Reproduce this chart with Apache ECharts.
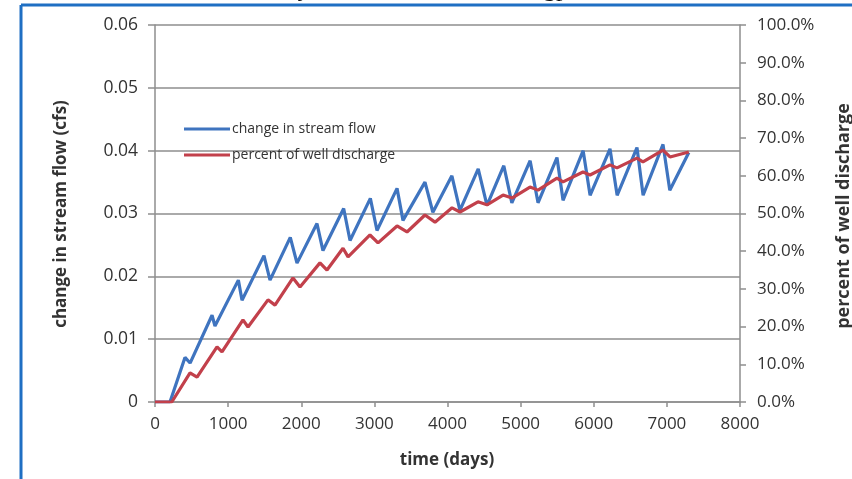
<!DOCTYPE html>
<html><head><meta charset="utf-8">
<script src="https://cdn.jsdelivr.net/npm/echarts@6/dist/echarts.min.js"></script>
<style>html,body{margin:0;padding:0;background:#fff;}#c{width:852px;height:479px;}</style>
</head><body><div id="c"></div>
<script>
// ---- data ----
const xTickLabels = ['0','1000','2000','3000','4000','5000','6000','7000','8000'];
const leftTickLabels = ['0','0.01','0.02','0.03','0.04','0.05','0.06'];
const rightTickLabels = ['0.0%','10.0%','20.0%','30.0%','40.0%','50.0%','60.0%','70.0%','80.0%','90.0%','100.0%'];

const seriesNames = ['change in stream flow', 'percent of well discharge'];

// change in stream flow (cfs) vs time (days)
const flowDays = [0, 205, 410, 480, 780, 820, 1140, 1190, 1490, 1573, 1850, 1942, 2215, 2297, 2580, 2667,
  2945, 3036, 3310, 3391, 3692, 3800, 4060, 4170, 4420, 4540, 4770, 4880, 5130, 5238, 5497, 5580,
  5855, 5950, 6222, 6320, 6591, 6675, 6947, 7040, 7300];
const flowCfs = [0, 0, 0.0071, 0.0062, 0.0138, 0.0121, 0.0194, 0.0162, 0.0233, 0.0194, 0.0262, 0.0221,
  0.0284, 0.0241, 0.0308, 0.0257, 0.0324, 0.0273, 0.0340, 0.0289, 0.0350, 0.0302, 0.0360, 0.0305,
  0.0371, 0.0313, 0.0376, 0.0317, 0.0384, 0.0317, 0.0389, 0.0321, 0.0400, 0.0329, 0.0403, 0.0329,
  0.0405, 0.0329, 0.0410, 0.0337, 0.0397];

// percent of well discharge (%) vs time (days)
const pctDays = [0, 230, 479, 575, 848, 916, 1203, 1272, 1545, 1641, 1887, 1983, 2256, 2352, 2571, 2640,
  2940, 3050, 3310, 3446, 3692, 3829, 4062, 4171, 4417, 4540, 4759, 4882, 5128, 5238, 5497, 5580,
  5853, 5949, 6222, 6318, 6591, 6673, 6947, 7043, 7300];
const pctValues = [0, 0, 7.7, 6.6, 14.6, 13.3, 21.8, 19.9, 27.1, 25.7, 32.9, 30.5, 36.9, 35.0, 40.8, 38.5,
  44.3, 42.2, 46.7, 45.1, 49.6, 47.7, 51.5, 50.4, 53.1, 52.3, 54.9, 54.1, 57.0, 56.2, 59.4, 58.4,
  61.0, 60.2, 62.9, 62.1, 64.7, 63.7, 66.8, 65.0, 66.3];

// ---- chart ----
const FONT = '"Open Sans", "DejaVu Sans", sans-serif';
const TXT = '#333333';
const GRID = '#8e8e8e';
const BLUE = '#3f74bf';
const RED = '#c2404b';

const chart = echarts.init(document.getElementById('c'), null, {renderer: 'canvas'});
chart.setOption({
  backgroundColor: '#ffffff',
  animation: false,
  textStyle: {fontFamily: FONT},
  grid: {left: 155, right: 112, top: 25, bottom: 77},
  legend: {
    orient: 'vertical', left: 184, top: 121, padding: 0,
    icon: 'rect', itemWidth: 46, itemHeight: 3, itemGap: 10,
    textStyle: {fontFamily: FONT, fontSize: 14, color: TXT, lineHeight: 16, padding: [0,0,0,-3]},
    data: seriesNames
  },
  xAxis: {
    type: 'value', min: 0, max: 8000, interval: 1000,
    axisLine: {show: true, lineStyle: {color: GRID, width: 1.5}},
    axisTick: {show: true, inside: false, length: 5, lineStyle: {color: GRID, width: 1.5}},
    splitLine: {show: false},
    axisLabel: {fontFamily: FONT, fontSize: 17, color: TXT, margin: 14,
      formatter: v => xTickLabels[Math.round(v / 1000)]}
  },
  yAxis: [{
    type: 'value', min: 0, max: 0.06, interval: 0.01, position: 'left',
    axisLine: {show: true, lineStyle: {color: GRID, width: 1.5}},
    axisTick: {show: true, inside: false, length: 7, lineStyle: {color: GRID, width: 1.5}},
    splitLine: {show: true, lineStyle: {color: GRID, width: 1.5}},
    axisLabel: {fontFamily: FONT, fontSize: 17.5, color: TXT, margin: 17,
      formatter: v => leftTickLabels[Math.round(v / 0.01)]}
  }, {
    type: 'value', min: 0, max: 100, interval: 10, position: 'right',
    axisLine: {show: true, lineStyle: {color: GRID, width: 1.5}},
    axisTick: {show: true, inside: false, length: 6, lineStyle: {color: GRID, width: 1.5}},
    splitLine: {show: false},
    axisLabel: {fontFamily: FONT, fontSize: 17, color: TXT, margin: 17,
      formatter: v => rightTickLabels[Math.round(v / 10)]}
  }],
  series: [{
    name: seriesNames[0], type: 'line', yAxisIndex: 0, showSymbol: false, symbol: 'none',
    color: BLUE, lineStyle: {color: BLUE, width: 3.2}, itemStyle: {color: BLUE},
    data: flowDays.map((d, i) => [d, flowCfs[i]])
  }, {
    name: seriesNames[1], type: 'line', yAxisIndex: 1, showSymbol: false, symbol: 'none',
    color: RED, lineStyle: {color: RED, width: 3.2}, itemStyle: {color: RED},
    data: pctDays.map((d, i) => [d, pctValues[i]])
  }],
  graphic: [
    {type: 'text', x: 61, y: 214, rotation: Math.PI / 2,
      style: {text: 'change in stream flow (cfs)', font: 'bold 17px ' + FONT, fill: TXT, align: 'center', verticalAlign: 'middle'}},
    {type: 'text', x: 844, y: 216, rotation: Math.PI / 2,
      style: {text: 'percent of well discharge', font: 'bold 18px ' + FONT, fill: TXT, align: 'center', verticalAlign: 'middle'}},
    {type: 'text', x: 447, y: 460,
      style: {text: 'time (days)', font: 'bold 17px ' + FONT, fill: TXT, align: 'center', verticalAlign: 'middle'}},
    // fragments of a title cut off above the picture
    {type: 'text', x: 304, y: 2,
      style: {text: 'y', font: '26px "Liberation Serif", serif', fill: '#111', align: 'center', verticalAlign: 'bottom'}},
    {type: 'text', x: 556, y: 2,
      style: {text: 'gp', font: '26px "Liberation Serif", serif', fill: '#111', align: 'center', verticalAlign: 'bottom'}},
    // blue frame
    {type: 'line', shape: {x1: 21, y1: 5, x2: 852, y2: 5}, style: {stroke: '#1f6fc3', lineWidth: 3}, z: 100},
    {type: 'line', shape: {x1: 21, y1: 5, x2: 21, y2: 479}, style: {stroke: '#1f6fc3', lineWidth: 3}, z: 100}
  ]
});
</script>
</body></html>
